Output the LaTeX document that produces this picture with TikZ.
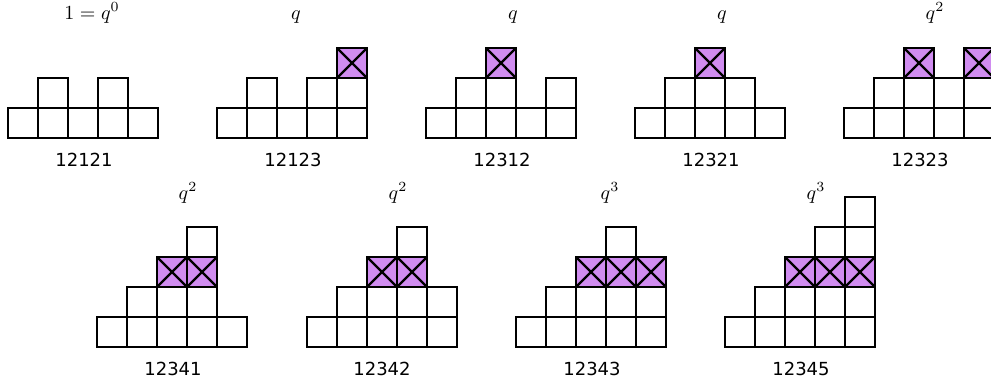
\documentclass[tikz,border=0pt]{standalone}
\usepackage{graphicx}
\usepackage{fontspec}
\newfontfamily\numfont{DejaVu Sans}
\definecolor{cellfill}{RGB}{208,140,240}
\newcommand\plaincells[3]{\foreach \c/\h in {#3}{\foreach \r in {1,...,\h}{\draw[cellline] ({#1+30*(\c-1)},{#2-30*(\r-1)}) rectangle ++(30,-30);}}}
\newcommand\crosscells[3]{\foreach \c/\r in {#3}{%
  \path[fill=cellfill] ({#1+30*(\c-1)},{#2-30*(\r-1)}) rectangle ++(30,-30);
  \draw[xline] ({#1+30*(\c-1)},{#2-30*(\r-1)}) -- ++(30,-30) ++(-30,0) -- ++(30,30);
  \draw[xline] ({#1+30*(\c-1)},{#2-30*(\r-1)}) rectangle ++(30,-30);}}
\newcommand\bigmath[1]{\scalebox{2.0}{$#1$}}
\begin{document}
\begin{tikzpicture}[x=1pt,y=-1pt,
  cellline/.style={draw=black,line width=1.3pt},
  xline/.style={draw=black,line width=2.3pt},
  toplabel/.style={inner sep=0pt,anchor=base},
  namelabel/.style={font=\fontsize{18}{20}\selectfont\numfont,inner sep=0pt,anchor=base}]
\useasboundingbox (0,0) rectangle (991,383);
% row 1
\plaincells{8}{138}{1/1,2/2,3/1,4/2,5/1}
\plaincells{217}{138}{1/1,2/2,3/1,4/2,5/3}
\crosscells{217}{138}{5/3}
\plaincells{426}{138}{1/1,2/2,3/3,4/1,5/2}
\crosscells{426}{138}{3/3}
\plaincells{635}{138}{1/1,2/2,3/3,4/2,5/1}
\crosscells{635}{138}{3/3}
\plaincells{844}{138}{1/1,2/2,3/3,4/2,5/3}
\crosscells{844}{138}{3/3,5/3}
% row 2
\plaincells{97}{347}{1/1,2/2,3/3,4/4,5/1}
\crosscells{97}{347}{3/3,4/3}
\plaincells{307}{347}{1/1,2/2,3/3,4/4,5/2}
\crosscells{307}{347}{3/3,4/3}
\plaincells{516}{347}{1/1,2/2,3/3,4/4,5/3}
\crosscells{516}{347}{3/3,4/3,5/3}
\plaincells{725}{347}{1/1,2/2,3/3,4/4,5/5}
\crosscells{725}{347}{3/3,4/3,5/3}
% labels
\node[toplabel] (t1) at (92,19) {\bigmath{1=q^0}};
\node[toplabel] (t2) at (296,19) {\bigmath{q}};
\node[toplabel] (t3) at (513,19) {\bigmath{q}};
\node[toplabel] (t4) at (722,19) {\bigmath{q}};
\node[toplabel] (t5) at (935,19) {\bigmath{q^2}};
\node[toplabel] (t6) at (188,199) {\bigmath{q^2}};
\node[toplabel] (t7) at (398,199) {\bigmath{q^2}};
\node[toplabel] (t8) at (610,199) {\bigmath{q^3}};
\node[toplabel] (t9) at (816,199) {\bigmath{q^3}};
\node[namelabel] (n1) at (84,166) {12121};
\node[namelabel] (n2) at (293,166) {12123};
\node[namelabel] (n3) at (502,166) {12312};
\node[namelabel] (n4) at (711,166) {12321};
\node[namelabel] (n5) at (920,166) {12323};
\node[namelabel] (n6) at (173,375) {12341};
\node[namelabel] (n7) at (382,375) {12342};
\node[namelabel] (n8) at (592,375) {12343};
\node[namelabel] (n9) at (801,375) {12345};
\end{tikzpicture}
\end{document}
